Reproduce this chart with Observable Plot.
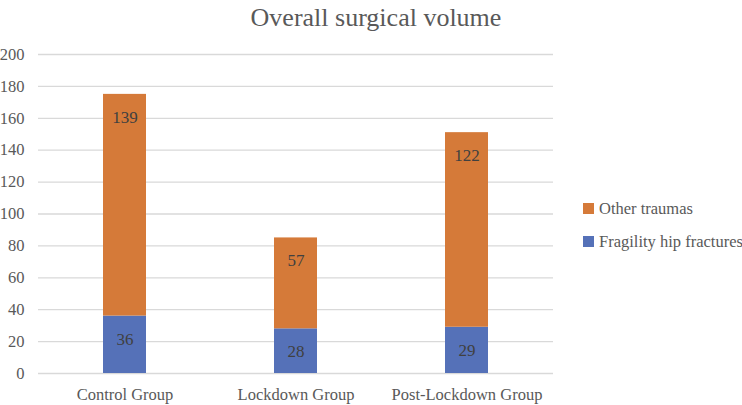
<!DOCTYPE html>
<html>
<head>
<meta charset="utf-8">
<script src="https://cdn.jsdelivr.net/npm/d3@7"></script>
<script src="https://cdn.jsdelivr.net/npm/@observablehq/plot@0.6"></script>
<style>
  * { font-family: "Liberation Serif", "Times New Roman", Times, serif !important; }
  body { margin: 0; background: #fff; }
  #wrap { position: relative; width: 742px; height: 405px; overflow: hidden; }
  #title { height: 36px; line-height: 36px; text-align: center; font-size: 26px; color: #595959; padding-left: 10px; }
  #legend { position: absolute; left: 583px; top: 192px; font-size: 16.5px; color: #595959; white-space: nowrap; }
  .item { display: flex; align-items: center; height: 33px; }
  .sw { width: 11px; height: 11px; margin-right: 5px; }
  #chart svg text { font-size: 16.5px; }
  #chart svg g[aria-label="text"] text { font-size: 17px; }
</style>
</head>
<body>
<div id="wrap">
  <div id="title">Overall surgical volume</div>
  <div id="chart"></div>
  <div id="legend"></div>
</div>
<script>
const groups = ["Control Group", "Lockdown Group", "Post-Lockdown Group"];
const series = ["Fragility hip fractures", "Other traumas"];
const hipFractures = [36, 28, 29];
const otherTraumas = [139, 57, 122];
const colors = ["#5571B8", "#D57A39"];
const yTicks = [0, 20, 40, 60, 80, 100, 120, 140, 160, 180, 200];

const data = [];
groups.forEach((g, i) => {
  data.push({group: g, series: series[0], value: hipFractures[i]});
  data.push({group: g, series: series[1], value: otherTraumas[i]});
});

const plot = Plot.plot({
  width: 742,
  height: 369,
  marginTop: 18,
  marginBottom: 32,
  marginLeft: 38,
  marginRight: 189,
  style: {fontFamily: "Liberation Serif, serif", fontSize: "16.5px", color: "#595959", background: "#fff"},
  x: {domain: groups, paddingInner: 0.75, paddingOuter: 0.375, label: null, tickSize: 0, tickPadding: 15},
  y: {domain: [0, 200], ticks: yTicks, label: null, tickSize: 0, tickPadding: 14, grid: false},
  color: {domain: series, range: colors},
  marks: [
    Plot.ruleY(yTicks, {stroke: "#d9d9d9", strokeWidth: 1.3}),
    Plot.barY(data, Plot.stackY({x: "group", y: "value", fill: "series", order: series})),
    Plot.text(data, Plot.stackY2({x: "group", y: "value", z: "series", order: series, text: d => String(d.value), dy: 23, fill: "#404040", fontSize: 17}))
  ]
});
document.getElementById("chart").appendChild(plot);

const legend = document.getElementById("legend");
[[series[1], colors[1]], [series[0], colors[0]]].forEach(([name, c]) => {
  const it = document.createElement("div");
  it.className = "item";
  it.innerHTML = `<span class="sw" style="background:${c}"></span><span>${name}</span>`;
  legend.appendChild(it);
});
</script>
</body>
</html>
